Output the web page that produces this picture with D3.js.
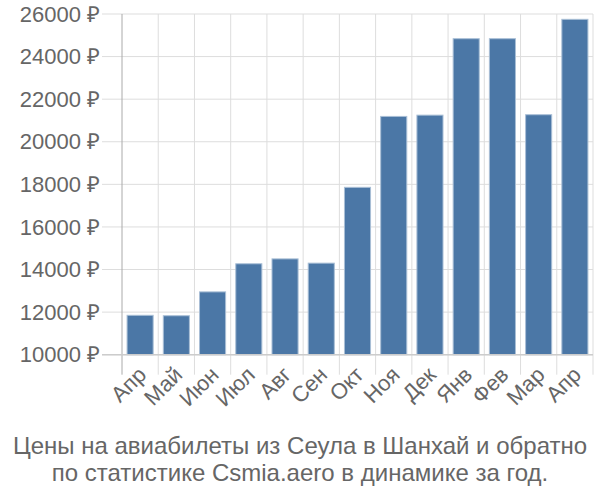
<!DOCTYPE html>
<html><head><meta charset="utf-8">
<script src="https://cdn.jsdelivr.net/npm/d3@7"></script>
<style>body{margin:0;background:#fff;} text{font-family:"Liberation Sans",Arial,sans-serif;}</style>
</head><body>
<svg id="c" width="600" height="500"></svg>
<script>
const categories = ["Апр","Май","Июн","Июл","Авг","Сен","Окт","Ноя","Дек","Янв","Фев","Мар","Апр"];
const values = [11850,11830,12950,14270,14500,14300,17860,21190,21250,24840,24840,21270,25750];
const yTicks = [10000,12000,14000,16000,18000,20000,22000,24000,26000];
const titleLines = ["Цены на авиабилеты из Сеула в Шанхай и обратно","по статистике Csmia.aero в динамике за год."];

const svg = d3.select("#c");
const L = 122, R = 593, T = 14, B = 354.7;
const x = d3.scaleBand().domain(d3.range(categories.length)).range([L, R]).paddingInner(0.28).paddingOuter(0.14);
const y = d3.scaleLinear().domain([10000, 26000]).range([B, T]);
const step = x.step();

// horizontal grid
svg.append("g").selectAll("line").data(yTicks).join("line")
  .attr("x1", L - 20).attr("x2", R).attr("y1", d => y(d)).attr("y2", d => y(d))
  .attr("stroke", "#ddd").attr("stroke-width", 1);
// vertical grid
const bounds = d3.range(categories.length + 1).map(i => L + i * step);
svg.append("g").selectAll("line").data(bounds.slice(1)).join("line")
  .attr("x1", d => d).attr("x2", d => d).attr("y1", T).attr("y2", B + 20)
  .attr("stroke", "#ddd").attr("stroke-width", 1);

// bars
svg.append("g").selectAll("rect").data(values).join("rect")
  .attr("x", (d, i) => x(i)).attr("width", x.bandwidth())
  .attr("y", d => y(d)).attr("height", d => B - y(d))
  .attr("fill", "#4b77a6").attr("stroke", "#a9bfd6").attr("stroke-width", 1);

// axes lines
svg.append("line").attr("x1", L).attr("x2", L).attr("y1", T).attr("y2", B + 20).attr("stroke", "#aaa").attr("stroke-width", 1);
svg.append("line").attr("x1", L - 20).attr("x2", R).attr("y1", B).attr("y2", B).attr("stroke", "#ccc").attr("stroke-width", 1.5);

// y labels
svg.append("g").selectAll("text").data(yTicks).join("text")
  .attr("x", 100).attr("y", d => y(d)).attr("dy", "0.35em")
  .attr("text-anchor", "end").attr("fill", "#666").attr("font-size", 22)
  .text(d => d + " ₽");

// x labels
svg.append("g").selectAll("text").data(categories).join("text")
  .attr("transform", (d, i) => `translate(${x(i) + x.bandwidth() / 2 + 2},${B + 16}) rotate(-45)`)
  .attr("text-anchor", "end").attr("dy", "0.35em").attr("fill", "#666").attr("font-size", 22)
  .text(d => d);

// title
svg.append("g").selectAll("text").data(titleLines).join("text")
  .attr("x", 300).attr("y", (d, i) => 454 + i * 27)
  .attr("text-anchor", "middle").attr("fill", "#666").attr("font-size", 24)
  .text(d => d);
</script>
</body></html>
